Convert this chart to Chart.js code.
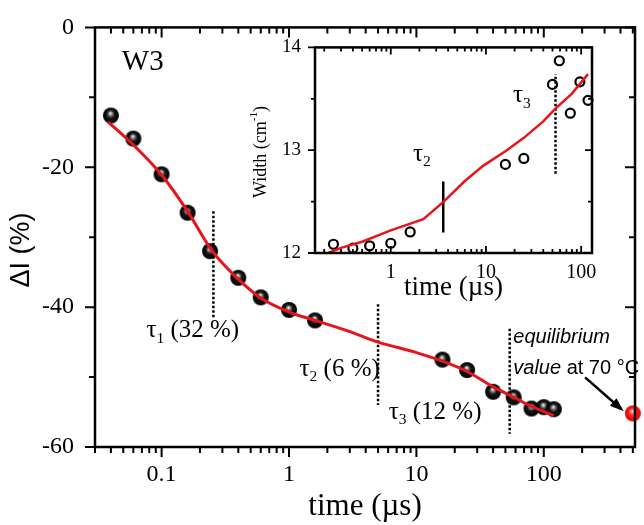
<!DOCTYPE html>
<html>
<head>
<meta charset="utf-8">
<script src="https://cdn.jsdelivr.net/npm/chart.js@4.4.1/dist/chart.umd.min.js"></script>
<style>
  html, body { margin: 0; padding: 0; background: #fff; }
  #wrap { position: relative; width: 644px; height: 525px; overflow: hidden; }
  #main { position: absolute; left: 0; top: 0; }
  #inset { position: absolute; left: 240px; top: 30px; }
</style>
</head>
<body>
<div id="wrap">
  <canvas id="main" width="644" height="525"></canvas>
  <canvas id="inset" width="360" height="274"></canvas>
</div>
<script>
// main panel: relative intensity change vs time
const timeMeas = [0.04, 0.06, 0.1, 0.16, 0.24, 0.4, 0.6, 1, 1.6, 16, 25, 40, 58, 80, 100, 120];
const dIMeas = [-12.6, -15.9, -21.0, -26.5, -32.0, -35.8, -38.6, -40.4, -41.9, -47.5, -49.0, -52.1, -52.9, -54.5, -54.3, -54.6];
const timeFit = [0.038, 0.06, 0.1, 0.16, 0.25, 0.4, 0.6, 1, 1.6, 3, 5, 10, 17, 25, 40, 57, 80, 120];
const dIFit = [-13.5, -16.8, -21.1, -26.3, -32.0, -36.0, -38.7, -40.7, -41.9, -43.5, -45.0, -46.5, -47.9, -49.2, -51.4, -52.8, -54.2, -55.5];
const equilTime = 500;
const equilDI = -55.2;
const tauTimes = [0.255, 5.0, 54];
const tauTop = [-26.3, -39.6, -43.1];
const tauBottom = [-41.7, -54.0, -58.1];
const tauNames = ['1', '2', '3'];
const tauShares = ['32', '6', '12'];
const mainXLabels = [0.1, 1, 10, 100];

// inset: line width vs time
const insetTime = [0.25, 0.4, 0.6, 1, 1.6, 16, 25, 50, 59, 77, 97, 118];
const insetWidth = [12.085, 12.047, 12.07, 12.095, 12.205, 12.862, 12.92, 13.64, 13.87, 13.36, 13.665, 13.485];
const insetFitTime = [0.22, 0.3, 0.5, 1, 2.2, 3.6, 6, 9.4, 16, 25, 40, 53, 80, 118];
const insetFitWidth = [12.0, 12.05, 12.11, 12.22, 12.33, 12.5, 12.7, 12.85, 12.99, 13.12, 13.28, 13.4, 13.55, 13.74];
const insetTau2 = { t: 3.56, lo: 12.2, hi: 12.695 };
const insetTau3 = { t: 53.8, lo: 12.77, hi: 13.74 };
const insetXLabels = [1, 10, 100];

function logTicks(min, max) {
  const out = [];
  for (let e = -3; e <= 3; e++) {
    for (let m = 1; m <= 9; m++) {
      const v = +(m * Math.pow(10, e)).toPrecision(3);
      if (v >= min - 1e-9 && v <= max + 1e-9) out.push(v);
    }
  }
  return out;
}
const isDecade = v => Math.abs(Math.log10(v) - Math.round(Math.log10(v))) < 1e-9;

function makeSphere(r, stops) {
  const c = document.createElement('canvas');
  c.width = c.height = 2 * r + 2;
  const g = c.getContext('2d');
  const cx = r + 1, cy = r + 1;
  const grad = g.createRadialGradient(cx - 0.5, cy - 2.5, 0, cx, cy, r);
  grad.addColorStop(0, stops[0]);
  grad.addColorStop(0.22, stops[1]);
  grad.addColorStop(0.5, stops[2]);
  grad.addColorStop(1, stops[3]);
  g.fillStyle = grad;
  g.beginPath();
  g.arc(cx, cy, r, 0, Math.PI * 2);
  g.fill();
  return c;
}
const sphereBlack = makeSphere(8, ['#ffffff', '#8a8a8a', '#151515', '#000000']);
const sphereRed = makeSphere(8, ['#ffffff', '#ff7a7a', '#ff1c1c', '#e00000']);

function drawRich(ctx, x, y, parts, size, family, align) {
  const runs = parts.map(p => {
    const s = (p.sub || p.sup) ? size * 0.62 : size;
    const f = (p.style || '') + ' ' + s + 'px "' + (p.family || family) + '"';
    ctx.font = f;
    return { p, f, w: ctx.measureText(p.t).width, dy: p.sub ? size * 0.32 : p.sup ? -size * 0.36 : 0 };
  });
  const total = runs.reduce((a, r) => a + r.w, 0);
  let cx = align === 'center' ? x - total / 2 : align === 'right' ? x - total : x;
  ctx.textBaseline = 'middle';
  ctx.textAlign = 'left';
  runs.forEach(r => {
    ctx.font = r.f;
    ctx.fillText(r.p.t, cx, y + r.dy);
    cx += r.w;
  });
}

// box + tick marks; dir: +1 draws downwards/rightwards
function framePlugin(o) {
  return {
    id: 'frame',
    afterDraw(chart) {
      const { ctx, chartArea: a, scales: { x, y } } = chart;
      ctx.save();
      ctx.strokeStyle = '#000';
      ctx.lineWidth = o.lw;
      ctx.strokeRect(a.left, a.top, a.right - a.left, a.bottom - a.top);
      ctx.lineWidth = o.tw;
      ctx.beginPath();
      x.ticks.forEach(t => {
        const px = x.getPixelForValue(t.value);
        const L = isDecade(t.value) ? o.major : o.minor;
        ctx.moveTo(px, a.bottom); ctx.lineTo(px, a.bottom + o.bottom * L);
        ctx.moveTo(px, a.top); ctx.lineTo(px, a.top + o.top * L);
      });
      y.ticks.forEach(t => {
        const py = y.getPixelForValue(t.value);
        const L = o.yMajor(t.value) ? o.major : o.minor;
        ctx.moveTo(a.left, py); ctx.lineTo(a.left + o.left * L, py);
        ctx.moveTo(a.right, py); ctx.lineTo(a.right + o.right * L, py);
      });
      ctx.stroke();
      ctx.restore();
    }
  };
}

const serif = 'Liberation Serif';
const sans = 'Liberation Sans';

const mainText = {
  id: 'mainText',
  afterDraw(chart) {
    const { ctx, scales: { x, y } } = chart;
    const X = v => x.getPixelForValue(v), Y = v => y.getPixelForValue(v);
    ctx.save();
    ctx.fillStyle = '#000';
    drawRich(ctx, X(0.0487), Y(-5.0), [{ t: 'W3' }], 29, serif, 'left');
    drawRich(ctx, X(0.076), Y(-43.4), [{ t: 'τ' }, { t: tauNames[0], sub: true }, { t: ' (' + tauShares[0] + ' %)' }], 25, serif, 'left');
    drawRich(ctx, X(1.21), Y(-48.9), [{ t: 'τ' }, { t: tauNames[1], sub: true }, { t: ' (' + tauShares[1] + ' %)' }], 25, serif, 'left');
    drawRich(ctx, X(6.06), Y(-55.0), [{ t: 'τ' }, { t: tauNames[2], sub: true }, { t: ' (' + tauShares[2] + ' %)' }], 25, serif, 'left');
    drawRich(ctx, X(57.6), Y(-44.4), [{ t: 'equilibrium', style: 'italic' }], 20, sans, 'left');
    drawRich(ctx, X(57.6), Y(-48.8), [{ t: 'value', style: 'italic' }, { t: ' at 70 °C' }], 20, sans, 'left');

    // arrow to the equilibrium value
    const x1 = X(211), y1 = Y(-50.05), x2 = X(407), y2 = Y(-54.6);
    ctx.strokeStyle = '#000';
    ctx.lineWidth = 2.5;
    ctx.beginPath(); ctx.moveTo(x1, y1); ctx.lineTo(x2, y2); ctx.stroke();
    const ang = Math.atan2(y2 - y1, x2 - x1);
    ctx.beginPath();
    ctx.moveTo(x2 + 3 * Math.cos(ang), y2 + 3 * Math.sin(ang));
    ctx.lineTo(x2 - 11 * Math.cos(ang) + 5 * Math.sin(ang), y2 - 11 * Math.sin(ang) - 5 * Math.cos(ang));
    ctx.lineTo(x2 - 11 * Math.cos(ang) - 5 * Math.sin(ang), y2 - 11 * Math.sin(ang) + 5 * Math.cos(ang));
    ctx.closePath();
    ctx.fill();

    // y axis title
    ctx.translate(22, 250);
    ctx.rotate(-Math.PI / 2);
    drawRich(ctx, 0, 0, [{ t: 'ΔI (%)' }], 27, sans, 'center');
    ctx.restore();
  }
};

const tauSets = tauTimes.map((t, i) => ({
  label: 'tau' + tauNames[i],
  data: [{ x: t, y: tauTop[i] }, { x: t, y: tauBottom[i] }],
  borderColor: '#000',
  borderWidth: 2.5,
  borderDash: [2.5, 2],
  pointRadius: 0
}));

new Chart(document.getElementById('main'), {
  type: 'line',
  data: {
    datasets: [
      {
        label: 'fit',
        data: timeFit.map((t, i) => ({ x: t, y: dIFit[i] })),
        borderColor: '#e8141b',
        borderWidth: 3,
        pointRadius: 0,
        cubicInterpolationMode: 'monotone'
      },
      {
        label: 'ΔI',
        data: timeMeas.map((t, i) => ({ x: t, y: dIMeas[i] })),
        showLine: false,
        pointStyle: sphereBlack,
        pointRadius: 8,
        clip: false
      },
      {
        label: 'equilibrium',
        data: [{ x: equilTime, y: equilDI }],
        showLine: false,
        pointStyle: sphereRed,
        pointRadius: 8,
        clip: false
      },
      ...tauSets
    ]
  },
  options: {
    responsive: false,
    animation: false,
    events: [],
    layout: { padding: { top: 25, right: 0, left: 0, bottom: 0 } },
    plugins: { legend: { display: false }, tooltip: { enabled: false } },
    scales: {
      x: {
        type: 'logarithmic',
        min: 0.03,
        max: 520,
        grid: { display: false },
        border: { display: false },
        afterBuildTicks: s => { s.ticks = logTicks(0.03, 520).map(v => ({ value: v })); },
        afterFit: s => { s.height = 78; },
        ticks: {
          autoSkip: false, maxRotation: 0, padding: 5, color: '#000',
          font: { family: serif, size: 24 },
          callback: v => mainXLabels.includes(v) ? String(v) : ''
        },
        title: { display: true, text: 'time (µs)', color: '#000', font: { family: serif, size: 31 }, padding: 0 }
      },
      y: {
        min: -60,
        max: 0,
        grid: { display: false },
        border: { display: false },
        afterFit: s => { s.width = 95; },
        ticks: {
          stepSize: 10, padding: 13, color: '#000',
          font: { family: serif, size: 24 },
          callback: v => v % 20 === 0 ? String(v) : ''
        }
      }
    }
  },
  plugins: [framePlugin({ lw: 2.5, tw: 2, major: 10, minor: 6, bottom: 1, top: 1, left: -1, right: -1, yMajor: v => v % 20 === 0 }), mainText]
});

const insetText = {
  id: 'insetText',
  afterDraw(chart) {
    const { ctx, scales: { x, y } } = chart;
    const X = v => x.getPixelForValue(v), Y = v => y.getPixelForValue(v);
    ctx.save();
    ctx.fillStyle = '#000';
    drawRich(ctx, X(1.71), Y(12.96), [{ t: 'τ' }, { t: '2', sub: true }], 25, serif, 'left');
    drawRich(ctx, X(19.2), Y(13.53), [{ t: 'τ' }, { t: '3', sub: true }], 25, serif, 'left');
    ctx.translate(21, 122);
    ctx.rotate(-Math.PI / 2);
    drawRich(ctx, 0, 0, [{ t: 'Width (cm' }, { t: '-1', sup: true }, { t: ')' }], 18, serif, 'center');
    ctx.restore();
  }
};

new Chart(document.getElementById('inset'), {
  type: 'line',
  data: {
    datasets: [
      {
        label: 'fit',
        data: insetFitTime.map((t, i) => ({ x: t, y: insetFitWidth[i] })),
        borderColor: '#e8141b',
        borderWidth: 2.5,
        pointRadius: 0
      },
      {
        label: 'width',
        data: insetTime.map((t, i) => ({ x: t, y: insetWidth[i] })),
        showLine: false,
        pointRadius: 4.5,
        borderWidth: 2.2,
        borderColor: '#000',
        backgroundColor: 'rgba(0,0,0,0)',
        clip: false
      },
      {
        label: 'tau2',
        data: [{ x: insetTau2.t, y: insetTau2.lo }, { x: insetTau2.t, y: insetTau2.hi }],
        borderColor: '#000',
        borderWidth: 2.5,
        pointRadius: 0
      },
      {
        label: 'tau3',
        data: [{ x: insetTau3.t, y: insetTau3.lo }, { x: insetTau3.t, y: insetTau3.hi }],
        borderColor: '#000',
        borderWidth: 2.5,
        borderDash: [2.5, 2],
        pointRadius: 0
      }
    ]
  },
  options: {
    responsive: false,
    animation: false,
    events: [],
    layout: { padding: { top: 12, right: 8, left: 0, bottom: 0 } },
    plugins: { legend: { display: false }, tooltip: { enabled: false } },
    scales: {
      x: {
        type: 'logarithmic',
        min: 0.16,
        max: 130,
        grid: { display: false },
        border: { display: false },
        afterBuildTicks: s => { s.ticks = logTicks(0.16, 130).map(v => ({ value: v })); },
        afterFit: s => { s.height = 51; },
        ticks: {
          autoSkip: false, maxRotation: 0, padding: 0, color: '#000',
          font: { family: serif, size: 20 },
          callback: v => insetXLabels.includes(v) ? String(v) : ''
        },
        title: { display: true, text: 'time (µs)', color: '#000', font: { family: serif, size: 27 }, padding: 0 }
      },
      y: {
        min: 12,
        max: 14,
        grid: { display: false },
        border: { display: false },
        afterFit: s => { s.width = 75; },
        ticks: {
          stepSize: 0.5, padding: 6, color: '#000',
          font: { family: serif, size: 19 },
          callback: v => Number.isInteger(v) ? String(v) : ''
        }
      }
    }
  },
  plugins: [framePlugin({ lw: 2.5, tw: 1.8, major: 7, minor: 4, bottom: -1, top: 1, left: -1, right: -1, yMajor: v => Number.isInteger(v) }), insetText]
});
</script>
</body>
</html>
